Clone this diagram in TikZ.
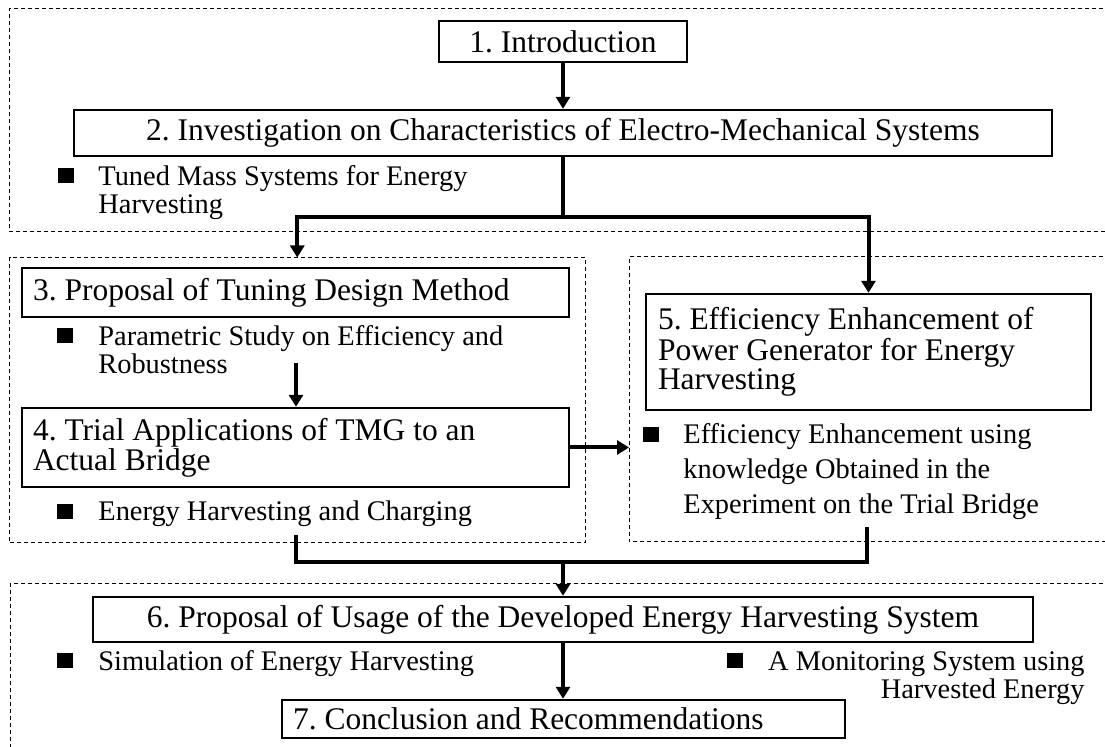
\documentclass[tikz,border=0pt]{standalone}
\usepackage{fontspec}
\setmainfont{Liberation Serif}
\usetikzlibrary{arrows.meta}
\newcommand\boxfont{\fontsize{15.75pt}{15pt}\selectfont\frenchspacing}
\newcommand\boxfontb{\fontsize{15.75pt}{14.4pt}\selectfont\frenchspacing}
\newcommand\bulfont{\fontsize{14.2pt}{14pt}\selectfont\frenchspacing}
\newcommand\bulfontb{\fontsize{14.2pt}{17.5pt}\selectfont\frenchspacing}
\newcommand\bstrut{\rule{0pt}{0.75em}}
\tikzset{
  box/.style={draw, line width=1.2pt, inner ysep=0pt, font=\boxfont},
  region/.style={draw, line width=0.5pt, dash pattern=on 2pt off 1.5pt},
  arr/.style={line width=2pt, -{Triangle[length=6pt,width=7pt]}},
  link/.style={line width=2pt},
  sq/.style={fill=black, inner sep=0pt, minimum width=8pt, minimum height=7.5pt, anchor=south west},
  btext/.style={inner sep=0pt, anchor=north west, align=left, font=\bulfont},
}
\begin{document}
\frenchspacing
\begin{tikzpicture}[x=0.5pt,y={(0,-0.5pt)}]
\useasboundingbox (0,0) rectangle (1105,747);

% dashed regions
\draw[region] (1110,9) -- (9.5,9) -- (9.5,232) -- (1110,232);
\node[region, inner sep=0pt, minimum width=287.75pt, minimum height=142.5pt] (regL) at (297.25,400.5) {};
\coordinate (regRnw) at (629,257);
\draw[region] (1110,257) -- (regRnw) -- (629,542) -- (1110,542);
\draw[region] (1110,584) -- (10,584) -- (10,760);

% boxes
\node[box, minimum width=124pt, minimum height=20.5pt, align=center] (b1) at (563,41.5) {1. Introduction};
\node[box, minimum width=489pt, minimum height=23pt, align=center] (b2) at (563,133) {2. Investigation on Characteristics of Electro-Mechanical Systems};
\node[box, text width=262.5pt, inner xsep=5.5pt, minimum height=24.5pt, align=flush left] (b3) at (295.5,292.5) {3. Proposal of Tuning Design Method};
\node[box, text width=262.5pt, inner xsep=5.5pt, minimum height=39.5pt, align=flush left] (b4) at (295.5,447.5) {4. Trial Applications of TMG to an\\Actual Bridge};
\node[box, font=\boxfontb, text width=210.5pt, inner xsep=6pt, minimum height=58pt, align=flush left] (b5) at (868.5,352) {5. Efficiency Enhancement of\\Power Generator for Energy\\Harvesting};
\node[box, minimum width=470pt, minimum height=22.5pt, align=center] (b6) at (563,619.5) {6. Proposal of Usage of the Developed Energy Harvesting System};
\node[box, text width=270.5pt, inner xsep=5.5pt, minimum height=19pt, align=flush left] (b7) at (563.5,719) {7. Conclusion and Recommendations};

% bullets
\node[sq] (s2) at (58,183) {};
\node[btext] (t2) at (98,163.8) {\bstrut Tuned Mass Systems for Energy\\Harvesting};
\node[sq] (s3) at (57,343) {};
\node[btext] (t3) at (98,323.8) {\bstrut Parametric Study on Efficiency and\\Robustness};
\node[sq] (s4) at (57,519) {};
\node[btext] (t4) at (98,498.8) {\bstrut Energy Harvesting and Charging};
\node[sq] (s5) at (643,442) {};
\node[btext, font=\bulfontb] (t5) at (683,421.8) {\bstrut Efficiency Enhancement using\\knowledge Obtained in the\\Experiment on the Trial Bridge};
\node[sq] (s6a) at (57,668) {};
\node[btext] (t6a) at (98,648.8) {\bstrut Simulation of Energy Harvesting};
\node[sq] (s6b) at (727,668) {};
\node[btext, anchor=north east, align=right] (t6b) at (1085,648.8) {\bstrut A Monitoring System using\\Harvested Energy};

% connectors
\coordinate (j1) at (563,217);
\coordinate (a3) at (296,363);
\coordinate (m1) at (296,535);
\coordinate (m2) at (867,527);
\coordinate (jm) at (563,562);

\draw[arr] (b1.south) -- (b2.north);
\draw[arr] (b2.south) -- (j1) -| (regL.north);
\draw[arr] (j1) -| (b5.north);
\draw[arr] (a3) -- (a3 |- b4.north);
\draw[arr] (b4.east) -- (b4.east -| regRnw);
\draw[link] (m1) |- (jm) -| (m2);
\draw[arr] (jm) -- (jm |- b6.north);
\draw[arr] (b6.south) -- (b6.south |- b7.north);
\end{tikzpicture}
\end{document}
